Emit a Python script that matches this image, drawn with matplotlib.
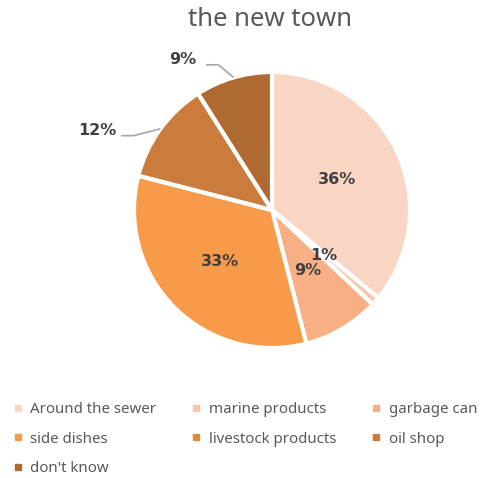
import numpy as np
import matplotlib.pyplot as plt
from matplotlib.lines import Line2D

plt.rcParams["font.family"] = ["Noto Sans", "DejaVu Sans"]

categories = ["Around the sewer", "marine products", "garbage can",
              "side dishes", "livestock products", "oil shop", "don't know"]
shares = [36, 1, 9, 33, 0, 12, 9]
colors = ["#F9D5C3", "#F8C6AC", "#F7AF83", "#F79B4A", "#DF893F", "#CB7B3C", "#AF6A32"]

# label placement: radius per slice, in units of the pie radius
label_r = [0.52, 0.50, 0.51, 0.53, None, 1.39, 1.27]
label_ang = [None, None, None, None, None, 294.6, 329.3]

fig = plt.figure(figsize=(4.9, 4.78), dpi=100)
ax = fig.add_axes([134 / 490, 130 / 478, 276 / 490, 276 / 478])

wedges, _ = ax.pie(shares, colors=colors, startangle=90, counterclock=False,
                   wedgeprops=dict(edgecolor="white", linewidth=3))
ax.set_aspect("equal")
ax.set_xlim(-1, 1)
ax.set_ylim(-1, 1)

lbl_font = dict(fontsize=11.5, fontweight="bold", color="#404040",
                family="DejaVu Sans")

total = sum(shares)
cum = 0
for i, v in enumerate(shares):
    mid = (cum + v / 2) / total * 360  # clockwise from top
    cum += v
    if v == 0:
        continue
    if label_ang[i] is None:
        th = np.radians(90 - mid)
        r = label_r[i]
        ax.text(r * np.cos(th), r * np.sin(th), f"{v}%", ha="center", va="center",
                **lbl_font)
    else:
        # outside label with a leader line back to the slice edge
        th = np.radians(90 - label_ang[i])
        tx, ty = label_r[i] * np.cos(th), label_r[i] * np.sin(th)
        ax.text(tx, ty, f"{v}%", ha="center", va="center", clip_on=False, **lbl_font)
        the = np.radians(90 - mid)
        ex, ey = np.cos(the), np.sin(the)
        sx = tx + 0.17
        elbow = sx + 0.09
        ly = ty - 0.04
        ax.plot([sx, elbow, ex], [ly, ly, ey], color="#A6A6A6", lw=1.2,
                clip_on=False, solid_capstyle="butt")

fig.text(0.551, 0.96, "the new town", ha="center", va="center",
         fontsize=18.5, color="#595959")

# matplotlib fills legend columns first; reorder so entries read across rows
order = [0, 3, 6, 1, 4, 2, 5]
handles = [Line2D([], [], marker="s", linestyle="", markersize=5,
                  markerfacecolor=colors[k], markeredgecolor=colors[k]) for k in order]
fig.legend(handles, [categories[k] for k in order], loc="upper left",
           bbox_to_anchor=(10 / 490, 0.165), borderaxespad=0, borderpad=0.2,
           ncol=3, frameon=False, fontsize=10.8,
           labelcolor="#595959", handlelength=0.6, handletextpad=0.55,
           columnspacing=2.35, labelspacing=0.97)

fig.savefig("out.png", dpi=100)
